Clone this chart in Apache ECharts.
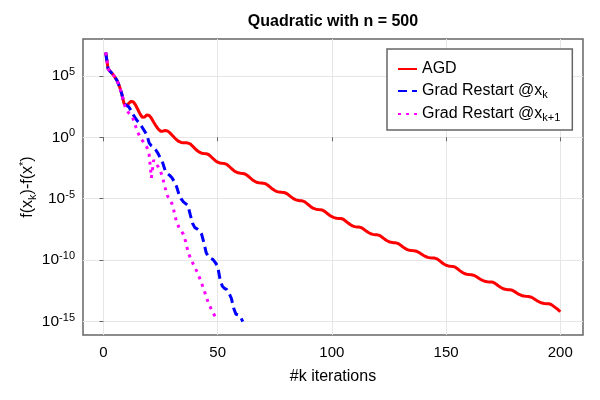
<!DOCTYPE html>
<html>
<head>
<meta charset="utf-8">
<script src="https://cdn.jsdelivr.net/npm/echarts@6/dist/echarts.min.js"></script>
<style>
  html, body { margin: 0; padding: 0; background: #fff; }
  #main { width: 600px; height: 400px; }
</style>
</head>
<body>
<div id="main"></div>
<script>
(function () {
    'use strict';

    // log10 of f(x_k)-f(x*), one value per iteration starting at k = 1
    var agdLog = [
        6.9, 5.6, 5.35, 5.15, 4.9, 4.6, 4.15, 3.55, 2.75, 2.55,
        2.75, 2.92, 2.9, 2.65, 2.28, 1.9, 1.62, 1.65, 1.82, 1.78,
        1.55, 1.22, 0.92, 0.66, 0.5, 0.5, 0.55, 0.52, 0.38, 0.18,
        -0.02, -0.2, -0.34, -0.42, -0.44, -0.45, -0.47, -0.54, -0.71, -0.9,
        -1.08, -1.21, -1.29, -1.32, -1.34, -1.4, -1.56, -1.74, -1.9, -2.02,
        -2.09, -2.12, -2.14, -2.2, -2.36, -2.54, -2.7, -2.82, -2.89, -2.92,
        -2.94, -2.98, -3.11, -3.27, -3.43, -3.56, -3.66, -3.7, -3.72, -3.74,
        -3.78, -3.9, -4.05, -4.21, -4.33, -4.42, -4.46, -4.48, -4.49, -4.55,
        -4.68, -4.83, -4.97, -5.07, -5.13, -5.16, -5.17, -5.23, -5.38, -5.53,
        -5.68, -5.79, -5.85, -5.88, -5.89, -5.94, -6.05, -6.2, -6.34, -6.46,
        -6.54, -6.59, -6.6, -6.61, -6.67, -6.81, -6.96, -7.1, -7.21, -7.27,
        -7.3, -7.31, -7.36, -7.49, -7.63, -7.75, -7.85, -7.9, -7.93, -7.94,
        -8.0, -8.13, -8.27, -8.4, -8.5, -8.55, -8.58, -8.59, -8.64, -8.77,
        -8.91, -9.04, -9.14, -9.19, -9.22, -9.23, -9.27, -9.36, -9.48, -9.6,
        -9.7, -9.77, -9.81, -9.82, -9.83, -9.89, -10.02, -10.17, -10.31, -10.41,
        -10.47, -10.5, -10.51, -10.57, -10.7, -10.85, -10.98, -11.09, -11.14, -11.17,
        -11.18, -11.22, -11.31, -11.43, -11.55, -11.65, -11.72, -11.76, -11.77, -11.78,
        -11.83, -11.96, -12.1, -12.22, -12.32, -12.37, -12.4, -12.41, -12.45, -12.56,
        -12.68, -12.79, -12.87, -12.92, -12.94, -12.95, -12.99, -13.08, -13.2, -13.32,
        -13.42, -13.49, -13.53, -13.54, -13.55, -13.61, -13.74, -13.88, -14.02, -14.2
    ];
    var restartLog = [
        6.9, 5.6, 5.35, 5.15, 4.9, 4.6, 4.15, 3.55, 2.75, 2.6,
        2.5, 2.2, 1.85, 1.55, 1.3, 1.1, 0.8, 0.5, 0.2, -0.45,
        -0.7, -0.85, -1.05, -1.35, -1.75, -2.1, -2.7, -2.95, -3.1, -3.3,
        -3.6, -4.0, -4.6, -5.0, -5.25, -5.4, -5.55, -6.3, -7.0, -7.35,
        -7.45, -7.6, -7.9, -8.6, -9.4, -9.75, -9.85, -9.95, -10.2, -10.5,
        -11.5, -12.1, -12.3, -12.4, -12.7, -13.1, -13.9, -14.4, -14.45, -14.6,
        -15.0
    ];
    var restartNextLog = [
        6.9, 5.6, 5.35, 5.15, 4.9, 4.6, 4.15, 3.55, 2.75, 2.24,
        2.0, 1.8, 1.5, 0.95, 0.4, 0.05, -0.25, -0.5, -0.8, -1.4,
        -3.3, -1.85, -2.15, -2.4, -2.75, -3.35, -4.1, -4.75, -5.1, -5.4,
        -6.1, -6.9, -7.3, -7.6, -7.9, -8.5, -9.3, -9.8, -10.2, -10.6,
        -10.95, -11.4, -11.9, -12.4, -13.0, -13.5, -13.9, -14.3, -14.6, -14.75
    ];
    var xTicks = [0, 50, 100, 150, 200];
    var yTicks = [-15, -10, -5, 0, 5];

    var names = ['AGD', 'Grad Restart @x_k', 'Grad Restart @x_k+1'];
    var legendText = {
        'AGD': '{n|AGD}',
        'Grad Restart @x_k': '{n|Grad Restart @x}{sub|k}',
        'Grad Restart @x_k+1': '{n|Grad Restart @x}{sub|k+1}'
    };

    function toPoints(arr) {
        return arr.map(function (v, i) { return [i + 1, v]; });
    }

    var font = 'Liberation Sans, Arial, sans-serif';
    var frame = '#666';

    var myChart = echarts.init(document.getElementById('main'));
    var option = {
        animation: false,
        backgroundColor: '#fff',
        textStyle: { fontFamily: font },
        title: {
            text: 'Quadratic with n = 500',
            left: 333,
            top: 14,
            padding: 0,
            textAlign: 'center',
            textStyle: { fontFamily: font, fontSize: 16, fontWeight: 'bold', color: '#000' }
        },
        grid: {
            left: 83, right: 17, top: 39, bottom: 65,
            show: true, borderColor: frame, borderWidth: 1.5, backgroundColor: 'transparent'
        },
        legend: {
            orient: 'vertical',
            left: 387, top: 49,
            padding: [12, 12, 7, 10],
            itemWidth: 19, itemHeight: 14, itemGap: 6,
            backgroundColor: '#fff',
            borderColor: frame, borderWidth: 1.5, borderRadius: 0,
            itemStyle: { opacity: 0 },
            data: names,
            formatter: function (name) { return legendText[name]; },
            textStyle: {
                fontFamily: font, color: '#000',
                rich: {
                    n: { fontFamily: font, fontSize: 16, lineHeight: 18, color: '#000' },
                    sub: { fontFamily: font, fontSize: 11, lineHeight: 16, verticalAlign: 'bottom', color: '#000' }
                }
            }
        },
        xAxis: {
            type: 'value',
            min: -8.95, max: 209.95,
            name: '#k iterations',
            nameLocation: 'middle',
            nameGap: 34,
            nameMoveOverlap: false,
            nameTextStyle: { fontFamily: font, fontSize: 16, color: '#000' },
            axisLine: { show: false },
            axisTick: { show: true, length: 4, inside: false, customValues: xTicks, lineStyle: { color: frame } },
            axisLabel: { customValues: xTicks, fontFamily: font, fontSize: 15, color: '#000', margin: 10 },
            splitLine: { show: true, lineStyle: { color: '#e6e6e6', width: 1 } }
        },
        yAxis: {
            type: 'value',
            min: -16.09, max: 8.0,
            name: '{n|f(x}{sub|k}{n|)-f(x}{sup|*}{n|)}',
            nameLocation: 'middle',
            nameGap: 45,
            nameRotate: 90,
            nameMoveOverlap: false,
            nameTextStyle: {
                fontFamily: font, fontSize: 16, color: '#000',
                rich: {
                    n: { fontFamily: font, fontSize: 16, lineHeight: 20, color: '#000' },
                    sub: { fontFamily: font, fontSize: 11, lineHeight: 15, verticalAlign: 'bottom', color: '#000' },
                    sup: { fontFamily: font, fontSize: 11, lineHeight: 11, verticalAlign: 'top', color: '#000' }
                }
            },
            axisLine: { show: false },
            axisTick: { show: true, length: 4, inside: false, customValues: yTicks, lineStyle: { color: frame } },
            axisLabel: {
                customValues: yTicks,
                margin: 8,
                formatter: function (v) { return '{b|10}{s|' + v + '}'; },
                rich: {
                    b: { fontFamily: font, fontSize: 15.5, lineHeight: 19, color: '#000' },
                    s: { fontFamily: font, fontSize: 11, lineHeight: 10, verticalAlign: 'top', color: '#000' }
                }
            },
            splitLine: { show: true, lineStyle: { color: '#e6e6e6', width: 1 } }
        },
        series: [
            {
                name: names[0], type: 'line', data: toPoints(agdLog),
                showSymbol: false, symbol: 'none', smooth: false,
                lineStyle: { color: '#ff0000', width: 3 },
                itemStyle: { color: '#ff0000' }
            },
            {
                name: names[1], type: 'line', data: toPoints(restartLog),
                showSymbol: false, symbol: 'none',
                lineStyle: { color: '#0000ff', width: 3, type: [9, 5] },
                itemStyle: { color: '#0000ff' }
            },
            {
                name: names[2], type: 'line', data: toPoints(restartNextLog),
                showSymbol: false, symbol: 'none',
                lineStyle: { color: '#ff00ff', width: 3, type: [3, 5] },
                itemStyle: { color: '#ff00ff' }
            }
        ]
    };
    myChart.setOption(option, true);
}());
</script>
</body>
</html>
